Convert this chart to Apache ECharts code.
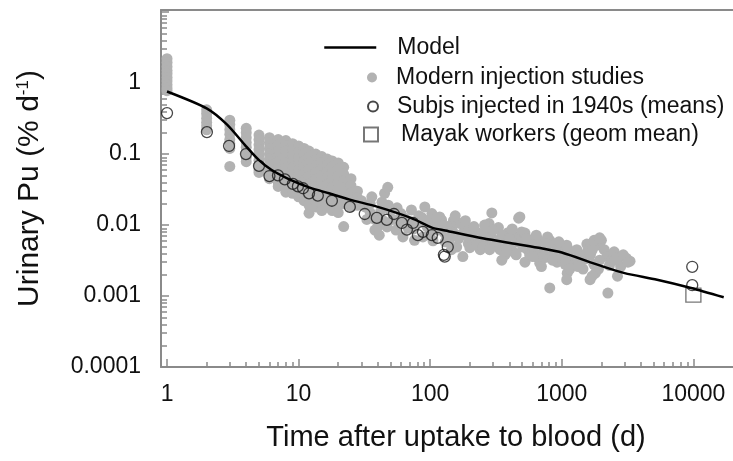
<!DOCTYPE html>
<html>
<head>
<meta charset="utf-8">
<script src="https://cdn.jsdelivr.net/npm/echarts@6/dist/echarts.min.js"></script>
<style>
  html, body { margin: 0; padding: 0; background: #fff; }
  #container { width: 733px; height: 461px; }
</style>
</head>
<body>
<div id="container"></div>
<script>
// tick positions and labels
var xMajorTicks = [1, 10, 100, 1000, 10000];
var xTickLabels = ['1', '10', '100', '1000', '10000'];
var xMinorTicks = [2, 3, 4, 5, 6, 7, 8, 9, 20, 30, 40, 50, 60, 70, 80, 90,
  200, 300, 400, 500, 600, 700, 800, 900, 2000, 3000, 4000, 5000, 6000, 7000, 8000, 9000];
var yMajorTicks = [0.0001, 0.001, 0.01, 0.1, 1, 10];
var yTickLabels = ['0.0001', '0.001', '0.01', '0.1', '1', ''];
var yMinorTicks = [0.0002, 0.0003, 0.0004, 0.0005, 0.0006, 0.0007, 0.0008, 0.0009,
  0.002, 0.003, 0.004, 0.005, 0.006, 0.007, 0.008, 0.009,
  0.02, 0.03, 0.04, 0.05, 0.06, 0.07, 0.08, 0.09,
  0.2, 0.3, 0.4, 0.5, 0.6, 0.7, 0.8, 0.9, 2, 3, 4, 5, 6, 7, 8, 9];

// model curve [days, % per day]
var modelLine = [[1, 0.76], [2, 0.44], [2.86, 0.26], [3.9, 0.135], [5, 0.082], [6.2, 0.06],
  [8.5, 0.044], [12, 0.034], [17, 0.028], [24.5, 0.0228], [40, 0.018], [72, 0.0125],
  [103, 0.0092], [130, 0.0084], [250, 0.0065], [450, 0.0054], [700, 0.0047], [1000, 0.0041],
  [1940, 0.0027], [3000, 0.0021], [5300, 0.0017], [9600, 0.0013], [17000, 0.00096]];

// modern injection studies (grey dots)
var modernStudies = [
  [1, 2.2], [1, 1.95], [1, 1.7], [1, 1.5], [1, 1.35], [1, 1.2], [1, 1.07], [1, 0.95], [1, 0.85], [1, 0.78],
  [2, 0.42], [2, 0.37], [2, 0.32], [2, 0.28], [2, 0.25], [2, 0.22],
  [3, 0.3], [3, 0.26], [3, 0.22], [3, 0.19], [3, 0.16], [3, 0.14], [3, 0.12], [3, 0.067],
  [4, 0.23], [4, 0.2], [4, 0.17], [4, 0.145], [4, 0.125], [4, 0.105], [4, 0.09], [4, 0.078],
  [5, 0.185], [5, 0.16], [5, 0.135], [5, 0.115], [5, 0.097], [5, 0.082], [5, 0.07], [5, 0.06], [5, 0.055],
  [6, 0.17], [6, 0.145], [6, 0.12], [6, 0.1], [6, 0.085], [6, 0.072], [6, 0.06], [6, 0.05], [6, 0.045],
  [7, 0.16], [7, 0.135], [7, 0.11], [7, 0.092], [7, 0.078], [7, 0.065], [7, 0.055], [7, 0.046], [7, 0.04], [7, 0.035],
  [8, 0.155], [8, 0.13], [8, 0.11], [8, 0.09], [8, 0.075], [8, 0.062], [8, 0.05], [8, 0.04], [8, 0.033], [8, 0.029],
  [9, 0.14], [9, 0.115], [9, 0.095], [9, 0.078], [9, 0.064], [9, 0.052], [9, 0.042], [9, 0.034], [9, 0.028],
  [10, 0.13], [10, 0.105], [10, 0.088], [10, 0.072], [10, 0.06], [10, 0.048], [10, 0.038], [10, 0.03], [10, 0.025],
  [11, 0.12], [11, 0.1], [11, 0.08], [11, 0.065], [11, 0.052], [11, 0.042], [11, 0.034], [11, 0.027], [11, 0.022],
  [12, 0.11], [12, 0.09], [12, 0.074], [12, 0.06], [12, 0.048], [12, 0.038], [12, 0.03], [12, 0.024], [12, 0.019], [12, 0.0147],
  [13.5, 0.1], [13.5, 0.083], [13.5, 0.068], [13.5, 0.055], [13.5, 0.044], [13.5, 0.035], [13.5, 0.028], [13.5, 0.022], [13.5, 0.018],
  [15, 0.092], [15, 0.076], [15, 0.062], [15, 0.05], [15, 0.04], [15, 0.032], [15, 0.025], [15, 0.02], [15, 0.016],
  [16.5, 0.085], [16.5, 0.07], [16.5, 0.057], [16.5, 0.046], [16.5, 0.037], [16.5, 0.029], [16.5, 0.023], [16.5, 0.018],
  [18, 0.08], [18, 0.066], [18, 0.054], [18, 0.043], [18, 0.034], [18, 0.027], [18, 0.021], [18, 0.016],
  [20, 0.075], [20, 0.062], [20, 0.05], [20, 0.04], [20, 0.032], [20, 0.025], [20, 0.019], [20, 0.015],
  [22, 0.065], [22, 0.052], [22, 0.042], [22, 0.033], [22, 0.026], [22, 0.02], [22, 0.0095],
  [25, 0.045], [25, 0.036], [25, 0.028], [25, 0.022], [25, 0.018],
  [28, 0.03], [28, 0.024], [28, 0.019],
  [30, 0.022], [32, 0.018], [35, 0.02], [35, 0.015], [38, 0.012], [38, 0.0085], [40, 0.0094], [41, 0.0072],
  [43, 0.021], [45, 0.028], [47.6, 0.034], [47, 0.0094], [50, 0.016], [52, 0.012], [56, 0.0175], [58, 0.011],
  [33, 0.012], [36, 0.025], [42, 0.0155], [44, 0.0115], [48, 0.019], [55, 0.0085], [60, 0.0145], [62, 0.0068],
  [70, 0.0112], [75, 0.0088], [82, 0.0135], [88, 0.0068], [92, 0.0105], [98, 0.0118],
  [64, 0.0125], [68, 0.009], [72, 0.0163], [76, 0.0061], [80, 0.011], [86, 0.0128], [91, 0.018], [95, 0.0094],
  [100, 0.0075], [103, 0.0145], [110, 0.0105], [115, 0.0085], [122, 0.0118], [130, 0.0075], [146, 0.0094],
  [118, 0.013], [159, 0.0107], [159, 0.0049], [183, 0.0085], [210, 0.0068], [177, 0.0036], [140, 0.0062],
  [165, 0.0065], [195, 0.0055], [230, 0.0078], [200, 0.009], [150, 0.0115], [135, 0.0095], [170, 0.0105],
  [190, 0.0072], [220, 0.0058], [240, 0.0045], [145, 0.0045],
  [105, 0.006], [112, 0.0125], [125, 0.0098], [130, 0.0058], [150, 0.0078], [155, 0.0135], [175, 0.0075],
  [185, 0.0115], [200, 0.0048], [215, 0.0095], [225, 0.0052], [240, 0.0068], [260, 0.0078], [270, 0.0058],
  [280, 0.0105], [290, 0.0068], [310, 0.0052], [330, 0.0092], [340, 0.0045], [360, 0.0058], [370, 0.0038],
  [390, 0.0078], [410, 0.0052], [430, 0.0042], [440, 0.0068], [460, 0.0058], [500, 0.0062], [520, 0.0052],
  [550, 0.0045], [570, 0.0038], [600, 0.0058], [620, 0.0052], [650, 0.0035], [660, 0.0062], [700, 0.0052],
  [720, 0.004], [750, 0.0035], [800, 0.0048], [830, 0.0038], [900, 0.0045], [920, 0.003], [980, 0.0048],
  [1020, 0.0042], [1050, 0.0033], [1120, 0.0045], [1180, 0.0031], [1250, 0.0042], [1280, 0.0033],
  [1400, 0.0038], [1450, 0.0024], [1500, 0.0033], [1550, 0.0054], [1650, 0.0038], [1750, 0.0028],
  [1850, 0.0052], [1900, 0.0024], [2100, 0.0045], [2200, 0.0036], [2300, 0.0027], [2500, 0.0042],
  [2700, 0.0035], [2800, 0.0026], [3100, 0.0034], [3300, 0.0031],
  [294, 0.0148], [259, 0.01], [250, 0.0049], [283, 0.0045], [350, 0.0072], [350, 0.0032], [470, 0.0125],
  [495, 0.008], [505, 0.0049], [525, 0.003], [640, 0.0072], [620, 0.0042], [680, 0.0029], [300, 0.0085],
  [320, 0.006], [400, 0.0065], [420, 0.0088], [380, 0.0045], [450, 0.0038], [560, 0.0062], [580, 0.0055],
  [600, 0.0036], [525, 0.0077], [480, 0.013], [540, 0.0065],
  [810, 0.0061], [810, 0.0013], [930, 0.004], [1090, 0.0052], [1100, 0.0021], [1370, 0.0029], [780, 0.0068],
  [740, 0.0045], [700, 0.0026], [880, 0.0052], [1000, 0.0035], [1060, 0.0028], [1200, 0.0038], [1150, 0.0024],
  [1300, 0.0045], [850, 0.0032], [950, 0.0058], [760, 0.0055], [1090, 0.0017], [1330, 0.0026],
  [1580, 0.0045], [1760, 0.0061], [1800, 0.0021], [2000, 0.0061], [1940, 0.0032], [2240, 0.0011], [2400, 0.0032],
  [2930, 0.0038], [3180, 0.003], [2650, 0.0019], [1640, 0.0017], [1700, 0.0019], [2530, 0.0032], [1940, 0.0066],
  [1700, 0.0044]
];

// subjects injected in the 1940s (means, open circles)
var subjs1940s = [[1, 0.378], [2.01, 0.204], [2.96, 0.13], [3.98, 0.1], [5, 0.068], [6, 0.049], [6.97, 0.05],
  [7.86, 0.044], [9.04, 0.038], [9.88, 0.035], [10.8, 0.033], [12, 0.028], [14, 0.026], [17.9, 0.022],
  [24.5, 0.018], [31.8, 0.0143], [39.3, 0.0126], [46.8, 0.0118], [53, 0.0143], [60.9, 0.0107], [66.5, 0.0086],
  [73.9, 0.0107], [80.6, 0.0072], [88.1, 0.008], [103, 0.0072], [114, 0.0066], [136, 0.0049], [129, 0.0036],
  [127, 0.0038], [9800, 0.00258], [9800, 0.00142]];

// Mayak workers (geometric mean, open square)
var mayakWorkers = [[10000, 0.00103]];

var dom = document.getElementById('container');
var myChart = echarts.init(dom, null, { renderer: 'canvas' });

var fontFam = '"Liberation Sans", Arial, sans-serif';
var axisGrey = '#8a8a8a';

function xLabel(v) {
  return xTickLabels[Math.round(Math.log10(v))];
}
function yLabel(v) {
  return yTickLabels[Math.round(Math.log10(v)) + 4];
}

var legendText = { fontSize: 23, color: '#111', fontFamily: fontFam };

var option = {
  animation: false,
  backgroundColor: '#fff',
  textStyle: { fontFamily: fontFam },
  grid: { left: 161, right: 0, top: 10, bottom: 94 },
  legend: [
    {
      data: ['Model'], left: 318, top: 31, itemWidth: 52, itemHeight: 14, selectedMode: false,
      itemStyle: { opacity: 0 },
      lineStyle: { color: '#000', width: 2.5 },
      textStyle: Object.assign({ padding: [0, 0, 0, 16] }, legendText)
    },
    {
      data: ['Modern injection studies'], left: 362, top: 61, itemWidth: 10, itemHeight: 10, selectedMode: false,
      textStyle: Object.assign({ padding: [0, 0, 0, 14] }, legendText)
    },
    {
      data: ['Subjs injected in 1940s (means)'], left: 362, top: 90, itemWidth: 10, itemHeight: 10, selectedMode: false,
      textStyle: Object.assign({ padding: [0, 0, 0, 14] }, legendText)
    },
    {
      data: ['Mayak workers (geom mean)'], left: 358, top: 118, itemWidth: 14, itemHeight: 14, selectedMode: false,
      textStyle: Object.assign({ padding: [0, 0, 0, 18] }, legendText)
    }
  ],
  xAxis: [
    {
      type: 'log', logBase: 10, min: 0.9, max: 20000, position: 'bottom',
      name: 'Time after uptake to blood (d)', nameLocation: 'middle', nameGap: 56,
      nameTextStyle: { fontSize: 29, color: '#111', fontFamily: fontFam, padding: [0, 0, 0, 18] },
      axisLine: { show: true, lineStyle: { color: axisGrey, width: 2 } },
      axisTick: { show: true, inside: true, length: 8, customValues: xMajorTicks, lineStyle: { color: axisGrey, width: 1.5 } },
      axisLabel: { show: true, customValues: xMajorTicks, formatter: xLabel, fontSize: 23, color: '#111', margin: 16, fontFamily: fontFam },
      splitLine: { show: false }
    },
    {
      type: 'log', logBase: 10, min: 0.9, max: 20000, position: 'bottom',
      axisLine: { show: false },
      axisTick: { show: true, inside: true, length: 5, customValues: xMinorTicks, lineStyle: { color: axisGrey, width: 1.5 } },
      axisLabel: { show: false },
      splitLine: { show: false }
    },
    {
      type: 'log', logBase: 10, min: 0.9, max: 20000, position: 'top',
      axisLine: { show: true, lineStyle: { color: axisGrey, width: 2 } },
      axisTick: { show: false }, axisLabel: { show: false }, splitLine: { show: false }
    }
  ],
  yAxis: [
    {
      type: 'log', logBase: 10, min: 0.0001, max: 10.7, position: 'left',
      name: 'Urinary Pu (% d{sup|-1})', nameLocation: 'middle', nameGap: 116,
      nameTextStyle: {
        fontSize: 30, color: '#111', fontFamily: fontFam,
        rich: { sup: { fontSize: 17, color: '#111', fontFamily: fontFam, verticalAlign: 'top', padding: [0, 0, 12, 0] } }
      },
      axisLine: { show: true, lineStyle: { color: axisGrey, width: 2 } },
      axisTick: { show: true, inside: true, length: 8, customValues: yMajorTicks, lineStyle: { color: axisGrey, width: 1.5 } },
      axisLabel: { show: true, customValues: yMajorTicks, formatter: yLabel, fontSize: 23, color: '#111', margin: 20, fontFamily: fontFam, padding: [4, 0, 0, 0] },
      splitLine: { show: false }
    },
    {
      type: 'log', logBase: 10, min: 0.0001, max: 10.7, position: 'left',
      axisLine: { show: false },
      axisTick: { show: true, inside: true, length: 6, customValues: yMinorTicks, lineStyle: { color: axisGrey, width: 1.5 } },
      axisLabel: { show: false },
      splitLine: { show: false }
    }
  ],
  series: [
    {
      name: 'Modern injection studies', type: 'scatter', data: modernStudies,
      symbol: 'circle', symbolSize: 11, z: 1,
      itemStyle: { color: '#b2b2b2', opacity: 1 }
    },
    {
      name: 'Subjs injected in 1940s (means)', type: 'scatter', data: subjs1940s,
      symbol: 'circle', symbolSize: 11, z: 3,
      itemStyle: { color: 'rgba(255,255,255,0)', borderColor: '#1a1a1a', borderWidth: 1.3 }
    },
    {
      name: 'Mayak workers (geom mean)', type: 'scatter', data: mayakWorkers,
      symbol: 'rect', symbolSize: [15, 14], z: 3,
      itemStyle: { color: 'rgba(255,255,255,0)', borderColor: '#555', borderWidth: 1.3 }
    },
    {
      name: 'Model', type: 'line', data: modelLine, showSymbol: false, symbol: 'none', z: 4,
      smooth: 0.25,
      lineStyle: { color: '#000', width: 2.5 }, itemStyle: { color: '#000' }
    }
  ]
};

myChart.setOption(option);
window.addEventListener('resize', myChart.resize);
</script>
</body>
</html>
